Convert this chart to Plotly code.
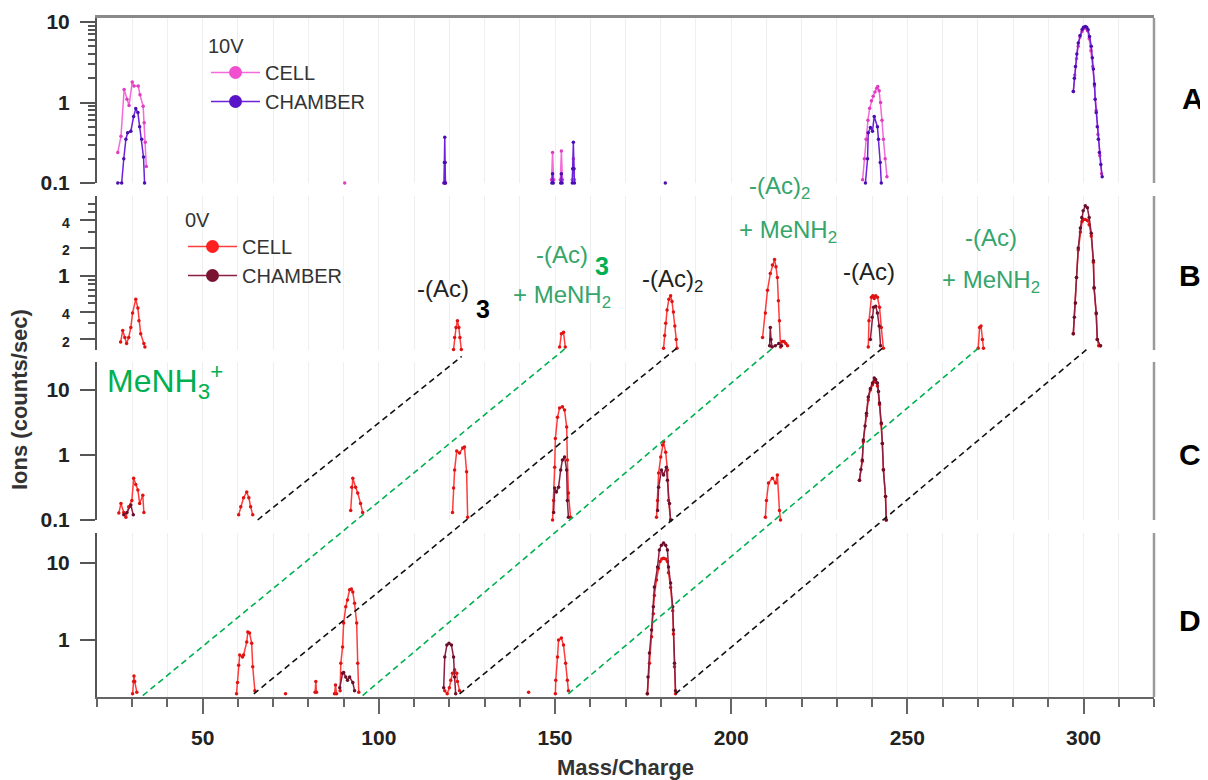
import math
import plotly.graph_objects as go

# ---------------- data ----------------
mass_ticks = [50, 100, 150, 200, 250, 300]
mass_tick_labels = ["50", "100", "150", "200", "250", "300"]
mass_minor_ticks = [20, 30, 40, 60, 70, 80, 90, 110, 120, 130, 140, 160, 170, 180, 190,
                    210, 220, 230, 240, 260, 270, 280, 290, 310, 320]

A_cell_mass = [25.9, 26.8, 27.7, 28.5, 29.1, 30.0, 30.5, 31.7, 32.2, 33.1, 33.4, 33.7, 34.0, None,
               90.3, None,
               118.5, 118.7, 118.9, None,
               149.0, 149.3, 149.6, None,
               151.5, 151.8, 152.1, None,
               154.9, 155.2, 155.5, None,
               237.3, 237.8, 238.3, 238.8, 239.3, 239.8, 240.3, 240.8, 241.3, 241.6, 242.0, 242.4, 242.8, 243.2, 243.7, 244.2, None,
               297.1, 297.5, 298.0, 298.5, 299.0, 299.6, 300.1, 300.6, 301.1, 301.6, 302.1, 302.6, 303.1, 303.6, 304.1, 304.6, 305.1]
A_cell_ions = [0.24, 0.38, 1.45, 1.1, 0.92, 1.8, 1.6, 1.6, 1.25, 0.9, 0.56, 0.32, 0.16, None,
               0.1, None,
               0.1, 0.18, 0.1, None,
               0.11, 0.24, 0.11, None,
               0.11, 0.25, 0.11, None,
               0.11, 0.2, 0.11, None,
               0.11, 0.2, 0.35, 0.6, 0.85, 1.05, 1.2, 1.35, 1.5, 1.58, 1.4, 1.0, 0.6, 0.35, 0.2, 0.12, None,
               1.37, 2.2, 3.5, 5.0, 6.5, 7.6, 8.3, 8.4, 7.8, 6.2, 4.4, 2.8, 1.6, 0.8, 0.4, 0.22, 0.13]

A_chamber_mass = [25.9, 27.0, 27.6, 28.2, 28.7, 29.6, 30.4, 31.0, 31.6, 32.1, 32.7, 33.2, 33.5, None,
                  118.5, 118.6, 118.7, 118.8, 118.9, None,
                  149.1, 149.3, 149.5, None,
                  151.6, 151.8, 152.0, None,
                  154.9, 155.0, 155.2, 155.4, 155.5, None,
                  181.3, None,
                  238.1, 238.7, 238.9, 239.5, 240.1, 240.6, 241.5, 241.8, 242.3, 242.6, None,
                  297.1, 297.4, 297.7, 298.1, 298.5, 299.0, 299.6, 300.0, 300.5, 300.9, 301.3, 301.7,
                  302.2, 302.5, 302.8, 303.1, 303.3, 303.6, 303.9, 304.2, 304.5, 304.9, 305.3]
A_chamber_ions = [0.1, 0.1, 0.2, 0.35, 0.42, 0.44, 0.67, 0.84, 0.75, 0.5, 0.35, 0.21, 0.1, None,
                  0.1, 0.18, 0.37, 0.18, 0.1, None,
                  0.1, 0.13, 0.1, None,
                  0.1, 0.13, 0.1, None,
                  0.1, 0.15, 0.32, 0.15, 0.1, None,
                  0.1, None,
                  0.1, 0.2, 0.42, 0.49, 0.44, 0.67, 0.5, 0.35, 0.18, 0.1, None,
                  1.37, 2.0, 2.8, 4.0, 5.5, 6.8, 8.1, 8.6, 8.8, 8.6, 8.0, 6.6,
                  5.0, 3.6, 2.6, 1.7, 1.1, 0.75, 0.5, 0.35, 0.24, 0.17, 0.12]

B_cell_mass = [26.7, 27.3, 27.9, 28.4, 29.0, 29.6, 30.1, 31.0, 31.6, 31.9, 32.4, 33.3, 33.6, None,
               121.2, 121.5, 121.9, 122.3, 122.7, 123.0, 123.4, None,
               151.3, 151.8, 152.4, 152.9, None,
               180.8, 181.1, 181.4, 181.8, 182.3, 182.8, 183.2, 183.6, 184.0, 184.4, 184.6, None,
               208.9, 209.7, 210.3, 211.1, 211.7, 212.3, 212.7, 213.1, 213.4, 213.7, 214.0, 214.5, 215.0, 215.5, 216.0, None,
               238.9, 239.1, 239.8, 240.2, 240.6, 241.0, 241.5, 242.1, 242.6, 243.2, None,
               270.1, 270.5, 270.9, 271.3, 271.6, None,
               297.1, 297.7, 298.0, 298.5, 299.1, 299.6, 300.0, 300.5, 301.1, 301.6, 302.2, 302.8, 303.0, 303.6, 303.9, 304.3, 304.8]
B_cell_ions = [0.187, 0.25, 0.21, 0.18, 0.21, 0.27, 0.39, 0.55, 0.44, 0.32, 0.23, 0.18, 0.165, None,
               0.155, 0.21, 0.27, 0.32, 0.27, 0.21, 0.155, None,
               0.165, 0.23, 0.24, 0.165, None,
               0.16, 0.22, 0.3, 0.42, 0.55, 0.6, 0.52, 0.4, 0.28, 0.2, 0.16, None,
               0.21, 0.39, 0.69, 1.05, 1.3, 1.5, 1.25, 0.95, 0.53, 0.32, 0.165, 0.19, 0.19, 0.18, 0.17, None,
               0.165, 0.32, 0.58, 0.6, 0.56, 0.6, 0.58, 0.45, 0.27, 0.16, None,
               0.16, 0.27, 0.28, 0.2, 0.16, None,
               0.23, 0.5, 0.95, 1.9, 3.0, 3.9, 4.1, 4.1, 4.0, 3.6, 2.7, 1.4, 0.72, 0.38, 0.2, 0.17, 0.17]

B_chamber_mass = [210.9, 211.1, 211.3, 211.6, 212.5, 213.5, 214.3, None,
                  239.5, 240.0, 240.4, 241.0, 241.5, 242.0, 242.4, None,
                  297.1, 297.4, 297.7, 298.0, 298.5, 299.1, 299.5, 299.9, 300.5, 301.1, 301.6,
                  302.2, 302.8, 303.0, 303.6, 303.9, 304.8]
B_chamber_ions = [0.17, 0.27, 0.2, 0.165, 0.17, 0.18, 0.17, None,
                  0.2, 0.35, 0.45, 0.46, 0.39, 0.28, 0.17, None,
                  0.23, 0.35, 0.5, 0.95, 2.0, 3.3, 4.3, 5.1, 5.8, 5.5, 4.3,
                  2.9, 1.45, 0.74, 0.39, 0.2, 0.17]

C_cell_mass = [26.2, 26.8, 27.6, 28.2, 29.0, 29.9, 30.4, 31.0, 31.6, 32.1, 33.0, 33.3, None,
               60.2, 60.8, 61.6, 62.5, 63.1, 63.6, 64.2, None,
               92.0, 92.3, 92.6, 93.4, 94.0, 94.8, 95.4, None,
               120.9, 121.2, 121.5, 122.1, 122.9, 123.8, 124.3, 124.9, 125.2, None,
               149.3, 149.6, 149.9, 150.1, 150.7, 151.3, 152.1, 152.7, 153.3, 153.5, 153.8, 154.4, None,
               178.8, 179.1, 179.4, 180.0, 180.5, 180.8, 181.4, 181.9, 182.2, 182.8, None,
               209.7, 210.0, 210.6, 211.7, 212.6, 213.1, 213.7, 214.0, None,
               236.4, 237.2, 237.5, 238.4, 238.9, 239.5, 240.1, 240.6, 241.1, 241.5, 242.1, 242.6, 242.9, 243.2, 243.8, 244.0]
C_cell_ions = [0.128, 0.18, 0.13, 0.11, 0.16, 0.2, 0.44, 0.35, 0.29, 0.18, 0.24, 0.13, None,
               0.12, 0.16, 0.22, 0.27, 0.22, 0.16, 0.12, None,
               0.14, 0.32, 0.44, 0.32, 0.26, 0.18, 0.13, None,
               0.13, 0.31, 0.59, 1.15, 1.07, 1.28, 1.33, 0.55, 0.11, None,
               0.1, 0.2, 0.65, 1.8, 3.8, 5.3, 5.5, 4.9, 2.7, 0.84, 0.26, 0.11, None,
               0.11, 0.2, 0.53, 0.93, 1.42, 1.6, 1.1, 0.59, 0.2, 0.1, None,
               0.11, 0.2, 0.37, 0.44, 0.37, 0.49, 0.14, 0.1, None,
               0.41, 0.8, 1.6, 4.0, 7.0, 10.0, 12.0, 13.5, 13.0, 11.5, 6.0, 3.0, 1.5, 0.6, 0.23, 0.1]

C_chamber_mass = [27.6, 28.5, 29.6, 30.3, None,
                  149.6, 149.9, 150.4, 151.0, 151.6, 152.1, 152.7, 153.3, 153.5, 153.8, None,
                  179.1, 179.4, 180.2, 180.8, 181.6, 181.9, 182.5, 182.8, None,
                  236.4, 236.8, 237.2, 237.5, 238.0, 238.4, 238.9, 239.5, 240.1, 240.6, 241.0,
                  241.5, 241.8, 242.1, 242.6, 242.9, 243.2, 243.8, 244.0]
C_chamber_ions = [0.12, 0.13, 0.17, 0.12, None,
                  0.13, 0.31, 0.27, 0.32, 0.59, 0.84, 0.93, 0.59, 0.2, 0.11, None,
                  0.14, 0.32, 0.59, 0.49, 0.65, 0.41, 0.18, 0.1, None,
                  0.41, 0.6, 0.84, 1.7, 2.8, 4.4, 7.8, 10.5, 12.8, 15.3, 14.5,
                  12.8, 9.5, 6.3, 3.1, 1.5, 0.59, 0.23, 0.1]

D_cell_mass = [30.1, 30.4, 30.5, 30.7, 31.3, None,
               59.6, 59.9, 60.2, 60.5, 61.3, 61.6, 62.5, 62.8, 63.3, 63.9, 64.2, 64.8, None,
               73.5, None,
               81.9, 82.1, 82.3, None,
               87.4, 87.7, 88.0, None,
               89.0, 89.2, 89.7, 90.0, 90.6, 91.1, 91.7, 92.2, 92.6, 93.1, 93.7, 94.0, 94.3, None,
               118.7, 119.4, 120.0, 120.4, 120.9, 121.5, 122.1, 122.3, 122.9, None,
               142.5, None,
               150.1, 150.2, 150.7, 151.0, 151.8, 152.4, 153.0, 153.5, 153.8, None,
               176.2, 176.8, 177.4, 177.9, 178.2, 178.8, 179.3, 179.8, 180.3, 180.8, 181.4, 181.9,
               182.2, 182.8, 183.4, 183.6, 183.9, 184.2]
D_cell_ions = [0.2, 0.29, 0.34, 0.29, 0.21, None,
               0.2, 0.28, 0.47, 0.64, 0.6, 0.64, 0.94, 1.27, 1.23, 0.91, 0.45, 0.22, None,
               0.2, None,
               0.21, 0.29, 0.21, None,
               0.2, 0.26, 0.2, None,
               0.22, 0.5, 0.81, 1.66, 2.7, 3.3, 4.5, 4.6, 4.2, 3.0, 1.66, 0.5, 0.21, None,
               0.22, 0.2, 0.24, 0.3, 0.37, 0.41, 0.37, 0.29, 0.22, None,
               0.21, None,
               0.2, 0.3, 0.6, 1.0, 1.06, 0.86, 0.5, 0.3, 0.22, None,
               0.2, 0.5, 1.1, 2.2, 3.8, 6.0, 8.5, 10.5, 11.3, 11.5, 11.3, 10.5,
               7.5, 4.8, 2.4, 1.2, 0.45, 0.2]

D_chamber_mass = [88.9, 89.7, 90.0, 90.6, 91.1, 91.7, 92.6, 93.1, None,
                  118.4, 118.7, 119.3, 119.9, 120.6, 121.2, 121.5, 121.8, None,
                  176.2, 176.4, 176.8, 177.4, 177.9, 178.2, 179.1, 179.6, 180.2, 180.8, 181.4, 181.9,
                  182.2, 182.8, 183.4, 183.6, 183.9, 184.2]
D_chamber_ions = [0.24, 0.37, 0.38, 0.33, 0.3, 0.33, 0.28, 0.22, None,
                  0.24, 0.6, 0.86, 0.91, 0.86, 0.6, 0.33, 0.2, None,
                  0.2, 0.33, 0.68, 1.35, 2.7, 4.9, 8.9, 14.8, 17.0, 18.2, 17.0, 14.8,
                  8.9, 5.5, 2.7, 1.35, 0.5, 0.22]

# guide lines linking related peaks: (panel, mass, ions) -> (panel, mass, ions)
black_guides = [("C", 65.6, 0.1, "B", 123.5, 0.13),
                ("D", 64.5, 0.2, "B", 184.5, 0.16),
                ("D", 122.9, 0.2, "B", 242.9, 0.16),
                ("D", 184.2, 0.2, "B", 301.3, 0.16)]
green_guides = [("D", 33.0, 0.19, "B", 153.0, 0.16),
                ("D", 95.4, 0.19, "B", 211.7, 0.16),
                ("D", 153.8, 0.2, "B", 270.1, 0.16)]

# ---------------- layout geometry ----------------
OFF = 8                      # page margin of the browser around the figure
W, H = 1200, 772
ML, MR, MT, MB = 89, 54, 10, 83
PW, PH = W - ML - MR, H - MT - MB

def px_x(x):                 # x in screenshot pixels -> paper
    return (x - OFF - ML) / PW

def px_y(y):                 # y in screenshot pixels -> paper
    return (H - MB - (y - OFF)) / PH

DOM = {"A": [px_y(183), 1.0], "B": [px_y(350), px_y(196)],
       "C": [px_y(520), px_y(362)], "D": [0.0, px_y(533)]}
RNG = {"A": [-1.0, 1.05], "B": [-0.815, 0.87], "C": [-1.0, 1.43], "D": [-0.74, 1.39]}
AX = {"A": "", "B": "2", "C": "3", "D": "4"}

def to_paper(panel, v):
    d0, d1 = DOM[panel]
    r0, r1 = RNG[panel]
    return d0 + (math.log10(v) - r0) / (r1 - r0) * (d1 - d0)

FONT = "Liberation Sans, Arial, sans-serif"
TXT = "#222222"
GREEN_TXT = "#35a56b"
GREEN = "#00b050"
AXC = "#555555"
GRID = "#efefef"

fig = go.Figure()

styles = {
    ("A", "cell"): dict(line="#f46ad8", marker="#e03cc2", name="CELL", legend="legend", lm="#f050d0"),
    ("A", "chamber"): dict(line="#6c22d8", marker="#4a0db0", name="CHAMBER", legend="legend", lm="#5a14c8"),
    ("B", "cell"): dict(line="#ff3c3c", marker="#e01212", name="CELL", legend="legend2", lm="#ff2020"),
    ("B", "chamber"): dict(line="#8c1e40", marker="#6a0f2a", name="CHAMBER", legend="legend2", lm="#7a1232"),
}
series = {
    ("A", "cell"): (A_cell_mass, A_cell_ions), ("A", "chamber"): (A_chamber_mass, A_chamber_ions),
    ("B", "cell"): (B_cell_mass, B_cell_ions), ("B", "chamber"): (B_chamber_mass, B_chamber_ions),
    ("C", "cell"): (C_cell_mass, C_cell_ions), ("C", "chamber"): (C_chamber_mass, C_chamber_ions),
    ("D", "cell"): (D_cell_mass, D_cell_ions), ("D", "chamber"): (D_chamber_mass, D_chamber_ions),
}
for (panel, kind), (xs, ys) in series.items():
    st = styles.get((panel, kind), styles[("B", kind)])
    fig.add_trace(go.Scatter(
        x=xs, y=ys, mode="lines+markers", name=st["name"],
        line=dict(color=st["line"], width=1.5),
        marker=dict(color=st["marker"], size=3.5),
        xaxis="x" + AX[panel], yaxis="y" + AX[panel],
        showlegend=False, cliponaxis=False, connectgaps=False,
    ))

# legend entries (10V legend for panel A, 0V legend for panel B)
for (panel, kind), st in styles.items():
    fig.add_trace(go.Scatter(
        x=[None], y=[None], mode="lines+markers", name=st["name"],
        line=dict(color=st["line"], width=1.5),
        marker=dict(color=st["lm"], size=13),
        xaxis="x" + AX[panel], yaxis="y" + AX[panel],
        showlegend=True, legend=st["legend"],
    ))

# ---------------- axes ----------------
xcommon = dict(range=[20, 320], tickvals=mass_ticks, ticktext=mass_tick_labels,
               showgrid=True, gridcolor=GRID, gridwidth=1, zeroline=False, automargin=False,
               minor=dict(tickvals=mass_minor_ticks, showgrid=True, gridcolor=GRID, gridwidth=1))
lay = {}
for panel in "ABCD":
    k = AX[panel]
    xa = dict(xcommon)
    xa["anchor"] = "y" + k
    if k:
        xa["matches"] = "x"
    if panel == "A":
        xa.update(side="top", showline=True, linecolor="#8a8a8a", linewidth=3,
                  ticks="", showticklabels=False)
    elif panel == "D":
        xa.update(showline=True, linecolor="#666666", linewidth=2, ticks="outside",
                  ticklen=15, tickwidth=2, tickcolor="#666666",
                  tickfont=dict(family=FONT, size=21, color=TXT, weight="bold"),
                  ticklabelstandoff=6,
                  title=dict(text="Mass/Charge", standoff=14,
                             font=dict(family=FONT, size=22, color="#333333", weight="bold")))
        xa["minor"] = dict(tickvals=mass_minor_ticks, ticks="outside", ticklen=8, tickwidth=2,
                           tickcolor="#666666", showgrid=True, gridcolor=GRID, gridwidth=1)
    else:
        xa.update(showline=False, ticks="", showticklabels=False)
    lay["xaxis" + k] = xa

ytick = {
    "A": ([0.1, 1, 10], ["0.1", "1", "10"], [0.2, 0.3, 0.4, 0.5, 0.6, 0.7, 0.8, 0.9, 2, 3, 4, 5, 6, 7, 8, 9]),
    "B": ([0.2, 0.4, 1, 2, 4],
          ['<span style="font-size:14px">2</span>', '<span style="font-size:14px">4</span>', "1",
           '<span style="font-size:14px">2</span>', '<span style="font-size:14px">4</span>'],
          [0.3, 0.5, 0.6, 0.7, 0.8, 0.9, 3, 5, 6]),
    "C": ([0.1, 1, 10], ["0.1", "1", "10"], []),
    "D": ([1, 10], ["1", "10"], []),
}
for panel in "ABCD":
    k = AX[panel]
    tv, tt, mv = ytick[panel]
    ya = dict(type="log", domain=DOM[panel], range=RNG[panel], anchor="x" + k,
              showline=True, linecolor=AXC, linewidth=2, ticks="outside", ticklen=15,
              tickwidth=2, tickcolor=AXC, tickvals=tv, ticktext=tt, showgrid=False,
              zeroline=False, ticklabelstandoff=6, automargin=False,
              tickfont=dict(family=FONT, size=21, color=TXT, weight="bold"))
    if mv:
        ya["minor"] = dict(tickvals=mv, ticks="outside", ticklen=7, tickwidth=1.5, tickcolor=AXC,
                           showgrid=False)
    lay["yaxis" + k] = ya

# ---------------- shapes ----------------
shapes = []
for panel in "ABCD":
    d0, d1 = DOM[panel]
    shapes.append(dict(type="line", xref="paper", yref="paper", x0=1, x1=1, y0=d0, y1=d1,
                       line=dict(color="#9a9a9a", width=2.5)))
for guides, col in ((black_guides, "#111111"), (green_guides, GREEN)):
    for p0, m0, v0, p1, m1, v1 in guides:
        shapes.append(dict(type="line", xref="x", yref="paper",
                           x0=m0, y0=to_paper(p0, v0), x1=m1, y1=to_paper(p1, v1),
                           line=dict(color=col, width=1.6, dash="6px,4px")))

# ---------------- text ----------------
def ann(text, x, y, size=24, color=TXT, bold=False, **kw):
    d = dict(text=text, x=px_x(x), y=px_y(y), xref="paper", yref="paper",
             showarrow=False, xanchor="center", yanchor="middle",
             font=dict(family=FONT, size=size, color=color, weight="bold" if bold else "normal"))
    d.update(kw)
    return d

annotations = [
    ann("-(Ac)", 443, 288),
    ann("3", 483, 309, size=25, bold=True, color="#000000"),
    ann("-(Ac)", 562, 254, color=GREEN_TXT),
    ann("3", 602, 266, size=25, bold=True, color=GREEN),
    ann("+ MeNH<sub>2</sub>", 562, 296, color=GREEN_TXT),
    ann("-(Ac)<sub>2</sub>", 672, 280),
    ann("-(Ac)<sub>2</sub>", 779, 187, color=GREEN_TXT),
    ann("+ MeNH<sub>2</sub>", 788, 231, color=GREEN_TXT),
    ann("-(Ac)", 869, 271),
    ann("-(Ac)", 991, 238, color=GREEN_TXT),
    ann("+ MeNH<sub>2</sub>", 991, 282, color=GREEN_TXT),
    ann("MeNH<sub>3</sub><sup>+</sup>", 165, 381, size=32, color=GREEN),
    ann("A", 1193, 98, size=30, bold=True, color="#000000"),
    ann("B", 1190, 275, size=30, bold=True, color="#000000"),
    ann("C", 1190, 455, size=30, bold=True, color="#000000"),
    ann("D", 1190, 620, size=30, bold=True, color="#000000"),
    ann("Ions (counts/sec)", 19, 400, size=22, bold=True, color="#333333", textangle=-90),
]

legend_common = dict(xanchor="left", yanchor="top", bgcolor="rgba(0,0,0,0)",
                     font=dict(family=FONT, size=20, color="#333333"),
                     itemwidth=49, tracegroupgap=0)

fig.update_layout(
    width=W, height=H, margin=dict(l=ML, r=MR, t=MT, b=MB, autoexpand=False),
    paper_bgcolor="white", plot_bgcolor="white",
    font=dict(family=FONT, color=TXT),
    shapes=shapes, annotations=annotations,
    legend=dict(legend_common, x=px_x(206), y=px_y(27),
                title=dict(text="10V", font=dict(family=FONT, size=20, color="#333333"))),
    legend2=dict(legend_common, x=px_x(183), y=px_y(201),
                 title=dict(text="0V", font=dict(family=FONT, size=20, color="#333333"))),
    **lay,
)

fig.write_html("out.html")
